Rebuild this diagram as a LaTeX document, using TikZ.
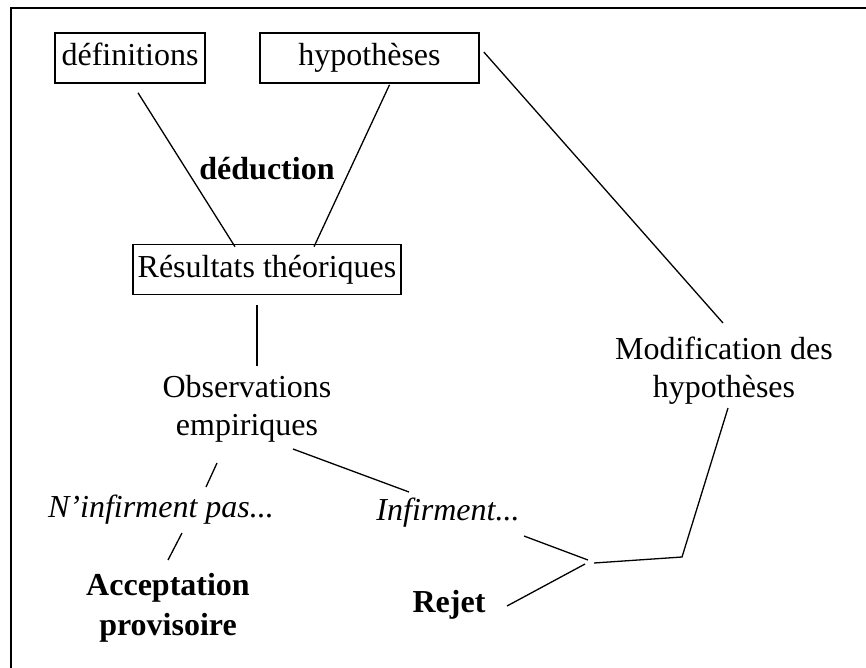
\documentclass[tikz,border=0pt]{standalone}
\usepackage{fontspec}
\setmainfont{Liberation Serif}

\begin{document}
\begin{tikzpicture}[x=1pt, y=-1pt, line width=1.3pt,
  every node/.style={font=\fontsize{32}{38}\selectfont, align=center, inner sep=0pt},
  boite/.style={draw, line width=1.6pt, minimum height=50pt, text height=22pt, text depth=7pt},
  gras/.style={font=\fontsize{32}{40}\selectfont\bfseries},
  ital/.style={font=\fontsize{32}{38}\selectfont\itshape}]
  \useasboundingbox (0,0) rectangle (866,667);
  \draw[line width=2pt] (11,690) -- (11,7.5) -- (890,7.5);
  % boites
  \node[boite, minimum width=150pt] (def) at (130,58) {définitions};
  \node[boite, minimum width=219pt] (hyp) at (369.5,58) {hypothèses};
  \node[boite, minimum width=268pt] (res) at (267,269.5) {Résultats théoriques};
  % textes
  \node[gras] (ded) at (267,169) {déduction};
  \node (obs) at (247,409) {Observations\\empiriques};
  \node[ital] (ninf) at (161,510) {N'infirment pas...};
  \node[gras] (acc) at (168,608) {Acceptation\\provisoire};
  \node[ital] (inf) at (448,513) {Infirment...};
  \node[gras] (rej) at (449,605) {Rejet};
  \node (mod) at (724,371) {Modification des\\hypothèses};
  \coordinate (j) at (590,562);
  \coordinate (k) at (682,557);
  % liens
  \draw ([xshift=8pt,yshift=-9pt]def.south) -- ([xshift=-32pt,yshift=-3pt]res.north);
  \draw ([xshift=20pt,yshift=-1pt]hyp.south) -- ([xshift=47pt,yshift=-3pt]res.north);
  \draw ([xshift=4pt,yshift=6pt]hyp.east) -- ([xshift=-1pt,yshift=48pt]mod.center);
  \draw ([xshift=-10pt,yshift=-10pt]res.south) -- ([xshift=10pt,yshift=43pt]obs.center);
  \draw ([xshift=-30pt,yshift=-54pt]obs.center) -- ([xshift=45pt,yshift=23pt]ninf.center);
  \draw ([xshift=21pt,yshift=-23pt]ninf.center) -- ([yshift=48pt]acc.center);
  \draw ([xshift=46pt,yshift=-40pt]obs.center) -- ([xshift=-39pt,yshift=21pt]inf.center);
  \draw ([xshift=76pt,yshift=-23pt]inf.center) -- ([xshift=-2pt,yshift=2pt]j);
  \draw ([xshift=4pt,yshift=-1pt]j) -- (k) -- ([xshift=4pt,yshift=-37pt]mod.center);
  \draw ([xshift=-5pt,yshift=-2pt]j) -- ([xshift=58pt,yshift=-1pt]rej.center);
\end{tikzpicture}
\end{document}
